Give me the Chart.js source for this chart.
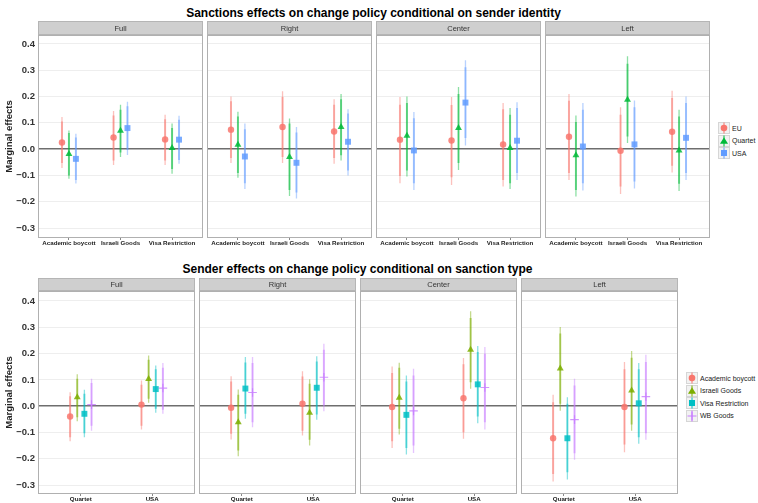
<!DOCTYPE html>
<html>
<head>
<meta charset="utf-8">
<script src="https://cdn.jsdelivr.net/npm/chart.js@4.4.1/dist/chart.umd.min.js"></script>
<style>
body { margin: 0; width: 758px; height: 503px; background: #fff; position: relative; overflow: hidden; font-family: 'Liberation Sans', Arial, sans-serif; }
canvas { position: absolute; }
.title { position: absolute; text-align: center; font-weight: bold; font-size: 12px; line-height: 16px; color: #000; white-space: nowrap; }
.legend { position: absolute; font-size: 7px; color: #222; }
.item { height: 12.5px; display: flex; align-items: center; white-space: nowrap; }
.item svg { margin-right: 2px; }
</style>
</head>
<body>
<div class="title" style="top:5px; left:38px; width:671px">Sanctions effects on change policy conditional on sender identity</div>
<div class="title" style="top:261px; left:38px; width:639px">Sender effects on change policy conditional on sanction type</div>
<div class="legend" id="legTop" style="left:718px; top:122px"></div>
<div class="legend" id="legBottom" style="left:686px; top:372px"></div>
<script>
const facets = ['Full', 'Right', 'Center', 'Left'];
const yTicks = [-0.3, -0.2, -0.1, 0, 0.1, 0.2, 0.3, 0.4];

// top row: x = sanction type, series = sender. arrays are [facet][series][category]
const topCategories = ['Academic boycott', 'Israeli Goods', 'Visa Restriction'];
const topSeries = ['EU', 'Quartet', 'USA'];
const topColors = ['#F8766D', '#00BA38', '#619CFF'];
const topShapes = ['circle', 'triangle', 'rect'];

const topEst = [
    [[0.025, 0.044, 0.037], [-0.019, 0.070, 0.004], [-0.037, 0.080, 0.036]],
    [[0.074, 0.084, 0.067], [0.017, -0.030, 0.084], [-0.028, -0.052, 0.028]],
    [[0.036, 0.033, 0.018], [0.051, 0.080, 0.004], [-0.005, 0.177, 0.032]],
    [[0.047, -0.006, 0.066], [-0.023, 0.188, -0.005], [0.010, 0.018, 0.043]]
];
const topLo95 = [
    [[-0.072, -0.060, -0.060], [-0.113, -0.030, -0.094], [-0.131, -0.022, -0.056]],
    [[-0.053, -0.053, -0.056], [-0.109, -0.178, -0.043], [-0.152, -0.188, -0.100]],
    [[-0.130, -0.136, -0.142], [-0.104, -0.079, -0.152], [-0.155, 0.014, -0.117]],
    [[-0.117, -0.171, -0.089], [-0.180, 0.023, -0.159], [-0.157, -0.150, -0.117]]
];
const topHi95 = [
    [[0.122, 0.145, 0.131], [0.071, 0.169, 0.097], [0.058, 0.180, 0.127]],
    [[0.200, 0.220, 0.190], [0.142, 0.116, 0.210], [0.097, 0.084, 0.152]],
    [[0.198, 0.198, 0.175], [0.200, 0.236, 0.156], [0.141, 0.338, 0.178]],
    [[0.210, 0.159, 0.222], [0.128, 0.353, 0.150], [0.175, 0.185, 0.200]]
];
const topLo90 = [
    [[-0.053, -0.043, -0.043], [-0.100, -0.013, -0.076], [-0.117, -0.003, -0.041]],
    [[-0.034, -0.030, -0.034], [-0.091, -0.155, -0.023], [-0.130, -0.165, -0.081]],
    [[-0.102, -0.107, -0.117], [-0.081, -0.053, -0.130], [-0.130, 0.042, -0.091]],
    [[-0.091, -0.142, -0.063], [-0.155, 0.048, -0.132], [-0.130, -0.123, -0.091]]
];
const topHi90 = [
    [[0.105, 0.128, 0.114], [0.061, 0.150, 0.080], [0.044, 0.163, 0.112]],
    [[0.182, 0.198, 0.169], [0.124, 0.097, 0.190], [0.076, 0.063, 0.135]],
    [[0.169, 0.168, 0.152], [0.175, 0.210, 0.131], [0.117, 0.311, 0.156]],
    [[0.184, 0.131, 0.194], [0.103, 0.325, 0.124], [0.150, 0.159, 0.175]]
];

// bottom row: x = sender, series = sanction type
const bottomCategories = ['Quartet', 'USA'];
const bottomSeries = ['Academic boycott', 'Israeli Goods', 'Visa Restriction', 'WB Goods'];
const bottomColors = ['#F8766D', '#7CAE00', '#00BFC4', '#C77CFF'];
const bottomShapes = ['circle', 'triangle', 'rect', 'cross'];

const bottomEst = [
    [[-0.039, 0.006], [0.034, 0.103], [-0.029, 0.065], [0.006, 0.069]],
    [[-0.006, 0.009], [-0.061, -0.025], [0.067, 0.070], [0.052, 0.110]],
    [[-0.003, 0.030], [0.032, 0.215], [-0.033, 0.083], [-0.018, 0.071]],
    [[-0.122, -0.003], [0.143, 0.060], [-0.122, 0.011], [-0.051, 0.036]]
];
const bottomLo95 = [
    [[-0.133, -0.089], [-0.057, 0.013], [-0.118, -0.025], [-0.093, -0.029]],
    [[-0.127, -0.112], [-0.190, -0.150], [-0.048, -0.052], [-0.080, -0.019]],
    [[-0.159, -0.124], [-0.108, 0.066], [-0.184, -0.065], [-0.178, -0.089]],
    [[-0.286, -0.175], [-0.017, -0.093], [-0.279, -0.143], [-0.204, -0.128]]
];
const bottomHi95 = [
    [[0.053, 0.098], [0.121, 0.193], [0.062, 0.155], [0.104, 0.164]],
    [[0.114, 0.133], [0.063, 0.102], [0.187, 0.190], [0.187, 0.237]],
    [[0.151, 0.183], [0.165, 0.361], [0.117, 0.229], [0.142, 0.225]],
    [[0.043, 0.168], [0.301, 0.210], [0.034, 0.164], [0.104, 0.196]]
];
const bottomLo90 = [
    [[-0.118, -0.074], [-0.042, 0.028], [-0.103, -0.010], [-0.074, -0.014]],
    [[-0.105, -0.093], [-0.169, -0.128], [-0.029, -0.032], [-0.061, 0.003]],
    [[-0.133, -0.099], [-0.086, 0.091], [-0.159, -0.039], [-0.150, -0.061]],
    [[-0.258, -0.146], [0.009, -0.070], [-0.251, -0.118], [-0.179, -0.103]]
];
const bottomHi90 = [
    [[0.038, 0.081], [0.104, 0.177], [0.047, 0.140], [0.088, 0.146]],
    [[0.094, 0.113], [0.043, 0.085], [0.166, 0.170], [0.164, 0.215]],
    [[0.126, 0.159], [0.146, 0.335], [0.094, 0.206], [0.117, 0.199]],
    [[0.015, 0.140], [0.276, 0.184], [0.009, 0.140], [0.079, 0.168]]
];

function rgba(hex, a) {
    const n = parseInt(hex.slice(1), 16);
    return 'rgba(' + (n >> 16) + ',' + ((n >> 8) & 255) + ',' + (n & 255) + ',' + a + ')';
}

const facetFrame = {
    id: 'facetFrame',
    beforeDraw(chart, args, opts) {
        const ctx = chart.ctx, a = chart.chartArea;
        ctx.save();
        ctx.fillStyle = '#fff';
        ctx.fillRect(a.left, a.top, a.width, a.height);
        ctx.fillStyle = '#cfcfcf';
        ctx.fillRect(a.left, a.top - opts.strip, a.width, opts.strip);
        ctx.strokeStyle = '#b5b5b5';
        ctx.lineWidth = 1;
        ctx.strokeRect(a.left + 0.5, a.top - opts.strip + 0.5, a.width - 1, opts.strip - 1);
        ctx.fillStyle = '#333';
        ctx.font = '7.5px "Liberation Sans", Arial, sans-serif';
        ctx.textAlign = 'center';
        ctx.textBaseline = 'middle';
        ctx.fillText(opts.label, (a.left + a.right) / 2, a.top - opts.strip / 2 + 0.5);
        ctx.restore();
    },
    afterDraw(chart) {
        const ctx = chart.ctx, a = chart.chartArea;
        ctx.save();
        ctx.strokeStyle = '#b0b0b0';
        ctx.lineWidth = 1;
        ctx.strokeRect(a.left + 0.5, a.top + 0.5, a.width - 1, a.height - 1);
        ctx.restore();
    }
};

function facetChart(o) {
    const showY = o.fi === 0;
    const yw = showY ? 38 : 0;
    const canvas = document.createElement('canvas');
    canvas.width = o.plotW + yw;
    canvas.height = o.strip + o.plotH + o.axisH;
    canvas.style.left = (o.left - yw) + 'px';
    canvas.style.top = (o.top - o.strip) + 'px';
    document.body.appendChild(canvas);

    const n = o.series.length;
    const datasets = [];
    o.series.forEach((s, si) => {
        const off = (si - (n - 1) / 2) * o.dodge;
        const seg = (lo, hi) => {
            const pts = [];
            o.categories.forEach((c, ci) => {
                const x = ci + 1 + off;
                pts.push({x: x, y: lo[o.fi][si][ci]}, {x: x, y: hi[o.fi][si][ci]}, {x: x, y: null});
            });
            return pts;
        };
        datasets.push({
            data: seg(o.lo95, o.hi95),
            showLine: true, spanGaps: false, pointRadius: 0,
            borderColor: rgba(o.colors[si], 0.45), borderWidth: 1.3, order: 2
        });
        datasets.push({
            data: seg(o.lo90, o.hi90),
            showLine: true, spanGaps: false, pointRadius: 0,
            borderColor: rgba(o.colors[si], 0.5), borderWidth: 2, order: 1
        });
        const cross = o.shapes[si] === 'cross';
        datasets.push({
            data: o.categories.map((c, ci) => ({x: ci + 1 + off, y: o.est[o.fi][si][ci]})),
            pointStyle: o.shapes[si],
            pointRadius: cross ? 4.3 : (o.shapes[si] === 'rect' ? 4.2 : (o.shapes[si] === 'triangle' ? 4 : 3.2)),
            backgroundColor: rgba(o.colors[si], 0.85),
            borderColor: rgba(o.colors[si], cross ? 0.8 : 0),
            borderWidth: cross ? 1.2 : 0,
            order: 0
        });
    });

    new Chart(canvas.getContext('2d'), {
        type: 'scatter',
        data: {datasets: datasets},
        plugins: [facetFrame],
        options: {
            responsive: false,
            animation: false,
            layout: {autoPadding: false, padding: {top: o.strip, left: 0, right: 0, bottom: 0}},
            scales: {
                x: {
                    type: 'linear',
                    min: 0.4,
                    max: o.categories.length + 0.6,
                    afterBuildTicks: scale => { scale.ticks = o.categories.map((c, i) => ({value: i + 1})); },
                    afterFit: scale => {
                        scale.height = o.axisH;
                        scale.paddingLeft = 0;
                        scale.paddingRight = 0;
                    },
                    ticks: {
                        autoSkip: false, maxRotation: 0, padding: 0,
                        callback: (v, i) => o.categories[i],
                        color: '#222',
                        font: {size: 6.2, weight: 'bold', family: '"Liberation Sans", Arial, sans-serif'}
                    },
                    grid: {drawOnChartArea: false, drawTicks: true, tickLength: 2, color: '#888'},
                    border: {display: false}
                },
                y: {
                    min: o.yMin,
                    max: o.yMax,
                    afterBuildTicks: scale => { scale.ticks = yTicks.map(v => ({value: v})); },
                    afterFit: scale => { scale.width = yw; },
                    ticks: {
                        display: showY, padding: 3,
                        callback: v => (v < 0 ? '\u2212' : '') + Math.abs(v).toFixed(1),
                        color: '#333',
                        font: {size: 9.5, weight: 'bold', family: '"Liberation Sans", Arial, sans-serif'}
                    },
                    grid: {
                        drawTicks: false,
                        color: ctx => ctx.tick && ctx.tick.value === 0 ? '#6e6e6e' : '#eeeeee',
                        lineWidth: ctx => ctx.tick && ctx.tick.value === 0 ? 1.6 : 1
                    },
                    border: {display: false},
                    title: {
                        display: showY, text: 'Marginal effects', color: '#222',
                        padding: {top: 4, bottom: 0},
                        font: {size: 9.5, weight: 'bold', family: '"Liberation Sans", Arial, sans-serif'}
                    }
                }
            },
            plugins: {
                legend: {display: false},
                tooltip: {enabled: false},
                facetFrame: {strip: o.strip, label: facets[o.fi]}
            }
        }
    });
}

facets.forEach((f, fi) => {
    facetChart({
        fi: fi, left: 38 + fi * 169, top: 35, plotW: 165, plotH: 203, strip: 14, axisH: 14,
        yMin: -0.338, yMax: 0.434, dodge: 0.135,
        categories: topCategories, series: topSeries, colors: topColors, shapes: topShapes,
        est: topEst, lo95: topLo95, hi95: topHi95, lo90: topLo90, hi90: topHi90
    });
    facetChart({
        fi: fi, left: 38 + fi * 161, top: 291, plotW: 157, plotH: 203, strip: 13, axisH: 9,
        yMin: -0.334, yMax: 0.438, dodge: 0.1,
        categories: bottomCategories, series: bottomSeries, colors: bottomColors, shapes: bottomShapes,
        est: bottomEst, lo95: bottomLo95, hi95: bottomHi95, lo90: bottomLo90, hi90: bottomHi90
    });
});

function keySvg(color, shape) {
    let mark;
    if (shape === 'circle') mark = '<circle cx="6" cy="6" r="3.3" fill="' + color + '"/>';
    else if (shape === 'triangle') mark = '<polygon points="6,2.3 10,8.8 2,8.8" fill="' + color + '"/>';
    else if (shape === 'rect') mark = '<rect x="3" y="3" width="6" height="6" fill="' + color + '"/>';
    else mark = '<path d="M1.5 6H10.5M6 1.5V10.5" stroke="' + color + '" stroke-width="1.2"/>';
    return '<svg width="12" height="12"><rect x="0.5" y="0.5" width="11" height="11" fill="#f2f2f2" stroke="#d6d6d6"/>' +
        '<line x1="6" y1="0.5" x2="6" y2="11.5" stroke="' + rgba(color, 0.5) + '" stroke-width="2"/>' + mark + '</svg>';
}

function legend(id, series, colors, shapes) {
    document.getElementById(id).innerHTML = series.map((s, i) =>
        '<div class="item">' + keySvg(colors[i], shapes[i]) + '<span>' + s + '</span></div>').join('');
}
legend('legTop', topSeries, topColors, topShapes);
legend('legBottom', bottomSeries, bottomColors, bottomShapes);
</script>
</body>
</html>
